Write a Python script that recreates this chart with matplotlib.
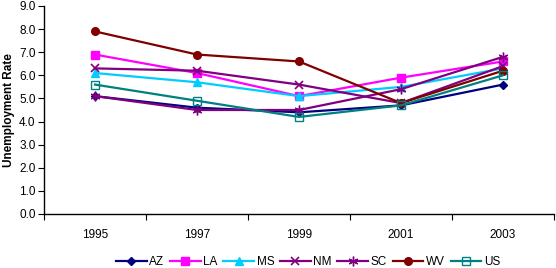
import matplotlib
matplotlib.use("Agg")
import matplotlib.pyplot as plt
import numpy as np

plt.rcParams["font.family"] = ["Liberation Sans", "DejaVu Sans"]

years = ["1995", "1997", "1999", "2001", "2003"]

az = [5.1, 4.6, 4.4, 4.7, 5.6]
la = [6.9, 6.1, 5.1, 5.9, 6.6]
ms = [6.1, 5.7, 5.1, 5.5, 6.3]
nm = [6.3, 6.2, 5.6, 4.8, 6.4]
sc = [5.1, 4.5, 4.5, 5.4, 6.8]
wv = [7.9, 6.9, 6.6, 4.8, 6.2]
us = [5.6, 4.9, 4.2, 4.7, 6.0]

series = [
    ("AZ", az, "#000080", dict(marker="D", ms=4.5)),
    ("LA", la, "#FF00FF", dict(marker="s", ms=6)),
    ("MS", ms, "#00CCFF", dict(marker="^", ms=6)),
    ("NM", nm, "#800080", dict(marker="x", ms=6, mew=1.2)),
    ("SC", sc, "#800080", dict(marker=(6, 2, 0), ms=7, mew=1.0)),
    ("WV", wv, "#800000", dict(marker="o", ms=5.5)),
    ("US", us, "#008080", dict(marker="s", ms=6, mfc="none", mew=1.0)),
]

fig = plt.figure(figsize=(5.56, 2.68), dpi=100)
ax = fig.add_axes([44 / 556, 1 - 214 / 268, 510 / 556, 208 / 268])

x = np.arange(len(years))
for name, vals, col, kw in series:
    ax.plot(x, vals, color=col, lw=1.6, label=name, **kw)

ax.set_xlim(-0.5, len(years) - 0.5)
ax.set_ylim(0, 9)
ax.set_yticks(np.arange(0, 9.1, 1.0))
ax.set_yticklabels([f"{v:.1f}" for v in np.arange(0, 9.1, 1.0)], fontsize=8.5)
ax.set_xticks(np.arange(-0.5, len(years), 1.0))
ax.set_xticklabels([])
ax.set_xticks(x, minor=True)
ax.set_xticklabels(years, minor=True, fontsize=8.5)
ax.tick_params(axis="x", which="minor", length=0, pad=11)
ax.tick_params(axis="x", which="major", length=4, direction="out", color="black")
ax.tick_params(axis="y", length=4, direction="out", pad=2)
for s in ("top", "right"):
    ax.spines[s].set_visible(False)
for s in ("left", "bottom"):
    ax.spines[s].set_linewidth(1.0)

ax.set_ylabel("Unemployment Rate", fontsize=8.5, fontweight="bold", labelpad=3)

ax.legend(loc="center", bbox_to_anchor=(308 / 556, 1 - 262 / 268),
          bbox_transform=fig.transFigure, ncol=7, frameon=False,
          fontsize=8.5, handlelength=2.6, handletextpad=0.2, columnspacing=0.5,
          borderpad=0)

fig.savefig("out.png", dpi=100)
